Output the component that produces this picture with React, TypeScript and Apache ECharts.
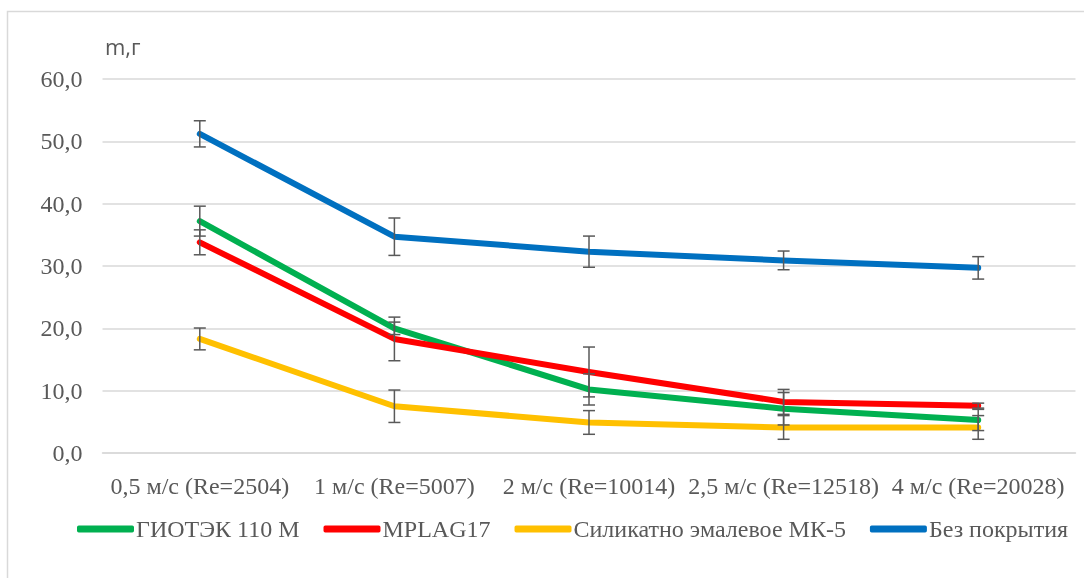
import React, { useEffect, useRef } from "react";
import * as echarts from "echarts";

const categories = [
  "0,5 м/с (Re=2504)",
  "1 м/с (Re=5007)",
  "2 м/с (Re=10014)",
  "2,5 м/с (Re=12518)",
  "4 м/с (Re=20028)",
];

const seriesNames = ["ГИОТЭК 110 М", "MPLAG17", "Силикатно эмалевое МК-5", "Без покрытия"];
const seriesColors = ["#00b050", "#ff0000", "#ffc000", "#0070c0"];

const giotekValues = [37.2, 20.0, 10.2, 7.1, 5.3];
const mplagValues = [33.8, 18.3, 13.0, 8.2, 7.6];
const silikatValues = [18.3, 7.5, 4.9, 4.1, 4.1];
const bezValues = [51.2, 34.7, 32.3, 30.9, 29.7];

const giotekErrors = [2.4, 1.0, 2.5, 2.6, 1.7];
const mplagErrors = [2.0, 3.5, 4.0, 2.0, 0.4];
const silikatErrors = [1.75, 2.6, 1.9, 1.9, 1.9];
const bezErrors = [2.1, 3.0, 2.5, 1.5, 1.8];

const yTicks = { min: 0, max: 60, interval: 10 };

export default function App() {
  const ref = useRef<HTMLDivElement>(null);
  useEffect(() => {
    if (!ref.current) return;
    const chart = echarts.init(ref.current, null, { renderer: "svg" });
    const values = [giotekValues, mplagValues, silikatValues, bezValues];
    const errors = [giotekErrors, mplagErrors, silikatErrors, bezErrors];
    const serif = "Liberation Serif";

    const lineSeries = values.map((vals, i) => ({
      name: seriesNames[i],
      type: "line",
      data: vals,
      showSymbol: false,
      symbol: "none",
      color: seriesColors[i],
      lineStyle: { width: 6, color: seriesColors[i], cap: "round", join: "round" },
      z: 2,
    }));

    const errSeries = values.map((vals, i) => ({
      name: seriesNames[i] + "_err",
      type: "custom",
      data: vals.map((v, j) => [j, v - errors[i][j], v + errors[i][j]]),
      z: 3,
      silent: true,
      renderItem: (params: any, api: any) => {
        const x = api.value(0);
        const lo = api.coord([x, api.value(1)]);
        const hi = api.coord([x, api.value(2)]);
        const hw = 6;
        const style = { stroke: "#595959", lineWidth: 1.5 };
        return {
          type: "group",
          children: [
            { type: "line", shape: { x1: lo[0], y1: lo[1], x2: hi[0], y2: hi[1] }, style },
            { type: "line", shape: { x1: lo[0] - hw, y1: lo[1], x2: lo[0] + hw, y2: lo[1] }, style },
            { type: "line", shape: { x1: hi[0] - hw, y1: hi[1], x2: hi[0] + hw, y2: hi[1] }, style },
          ],
        };
      },
    }));

    chart.setOption({
      animation: false,
      grid: { left: 102.5, right: 8.5, top: 79, bottom: 125, containLabel: false },
      xAxis: {
        type: "category",
        data: categories,
        boundaryGap: true,
        axisLine: { show: true, lineStyle: { color: "#d9d9d9", width: 1.5 } },
        axisTick: { show: false },
        axisLabel: { color: "#595959", fontFamily: serif, fontSize: 24, margin: 21, interval: 0 },
      },
      yAxis: {
        type: "value",
        min: yTicks.min,
        max: yTicks.max,
        interval: yTicks.interval,
        axisLine: { show: false },
        axisTick: { show: false },
        splitLine: { lineStyle: { color: "#d9d9d9", width: 1.5 } },
        axisLabel: {
          color: "#595959",
          fontFamily: serif,
          fontSize: 24,
          margin: 20,
          formatter: (v: number) => v.toFixed(1).replace(".", ","),
        },
      },
      legend: {
        data: seriesNames,
        left: 72,
        top: 512,
        icon: "roundRect",
        itemWidth: 57,
        itemHeight: 7,
        itemGap: 24,
        textStyle: { color: "#595959", fontFamily: serif, fontSize: 24, padding: [0, 0, 0, -3] },
      },
      graphic: [
        {
          type: "rect",
          shape: { x: 7.5, y: 11.5, width: 1100, height: 600 },
          style: { fill: "none", stroke: "#d9d9d9", lineWidth: 1.5 },
          silent: true,
        },
        {
          type: "text",
          x: 105,
          y: 35,
          style: { text: "m,г", fill: "#595959", fontFamily: "Open Sans", fontSize: 22 },
        },
      ],
      series: [...errSeries, ...lineSeries],
    });
    return () => chart.dispose();
  }, []);
  return <div ref={ref} style={{ position: "fixed", left: 0, top: 0, width: 1084, height: 578 }} />;
}
